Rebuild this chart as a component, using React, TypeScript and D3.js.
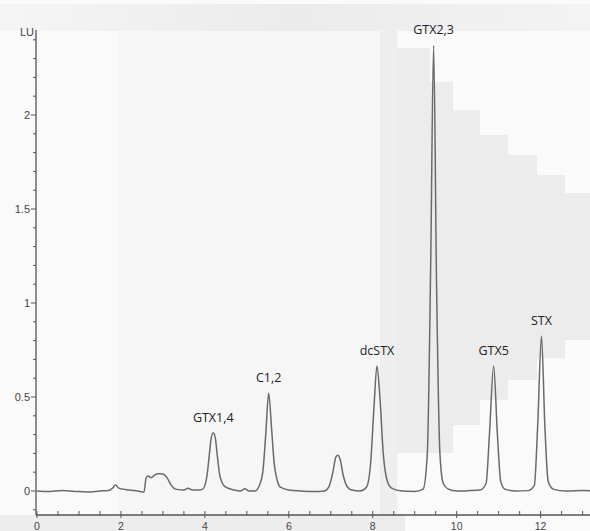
// ─ Imports ──────────────────────────────────────────────────────────────────────────────────────
import * as d3 from 'd3';
import { ReactElement } from 'react';

// ─ Data ─────────────────────────────────────────────────────────────────────────────────────────
// retention time (min) / signal (LU)
const times = [
  0, 0.3, 0.6, 0.9, 1.2, 1.5, 1.7, 1.8, 1.87, 1.95, 2.05, 2.2, 2.4, 2.55, 2.6, 2.65, 2.72, 2.8, 2.9,
  3.0, 3.1, 3.2, 3.3, 3.5, 3.6, 3.7, 3.85, 3.95, 4.0, 4.05, 4.1, 4.15, 4.2, 4.25, 4.3, 4.35, 4.42,
  4.5, 4.7, 4.85, 4.95, 5.05, 5.2, 5.3, 5.38, 5.45, 5.52, 5.59, 5.65, 5.72, 5.8, 6.0, 6.3, 6.6,
  6.85, 6.95, 7.05, 7.12, 7.17, 7.22, 7.3, 7.4, 7.5, 7.7, 7.85, 7.95, 8.03, 8.1, 8.17, 8.25, 8.35,
  8.45, 8.7, 9.0, 9.2, 9.3, 9.38, 9.45, 9.52, 9.6, 9.68, 9.8, 10.0, 10.3, 10.55, 10.7, 10.78,
  10.88, 10.97, 11.05, 11.15, 11.4, 11.7, 11.85, 11.93, 12.02, 12.1, 12.18, 12.3, 12.6, 13.0, 13.25
];
const signal = [
  0, -0.003, 0.002, -0.002, -0.005, 0.0, 0.003, 0.015, 0.032, 0.015, 0.01, 0.005, 0.0, -0.005, 0.07,
  0.08, 0.07, 0.085, 0.092, 0.09, 0.07, 0.03, 0.01, 0.005, 0.015, 0.005, 0.005, 0.01, 0.03, 0.08,
  0.18, 0.28, 0.31, 0.28, 0.18, 0.09, 0.04, 0.02, 0.005, 0.0, 0.012, 0.0, 0.0, 0.03, 0.1, 0.3,
  0.52, 0.33, 0.15, 0.06, 0.02, 0.005, 0.0, -0.003, 0.0, 0.02, 0.1, 0.18, 0.19, 0.17, 0.08, 0.02,
  0.005, 0.0, 0.02, 0.15, 0.45, 0.665, 0.5, 0.2, 0.05, 0.015, 0.0, -0.002, 0.01, 0.2, 1.2, 2.37,
  1.1, 0.2, 0.04, 0.01, 0.0, 0.002, 0.005, 0.04, 0.3, 0.665, 0.3, 0.05, 0.01, 0.0, 0.002, 0.03,
  0.35, 0.825, 0.35, 0.05, 0.01, 0.0, 0.002, 0.0
];

const peakNames = ['GTX1,4', 'C1,2', 'dcSTX', 'GTX2,3', 'GTX5', 'STX'];
const peakTimes = [4.2, 5.52, 8.1, 9.45, 10.88, 12.02];
const peakHeights = [0.31, 0.52, 0.665, 2.37, 0.665, 0.825];

const yTickLabels = [0, 0.5, 1, 1.5, 2];
const xTickLabels = [0, 2, 4, 6, 8, 10, 12];

// ─ Layout ───────────────────────────────────────────────────────────────────────────────────────
const WIDTH = 590;
const HEIGHT = 531;
const AXIS_X = 36;
const AXIS_Y = 515;
const AXIS_TOP = 30;

// background scan shading (staircase), pixel geometry
const stairs: [number, number][] = [
  [397, 48], [430, 48], [430, 82], [453, 82], [453, 110], [480, 110], [480, 135], [508, 135],
  [508, 155], [537, 155], [537, 175], [565, 175], [565, 193], [590, 193], [590, 340], [565, 340],
  [565, 358], [537, 358], [537, 380], [508, 380], [508, 400], [480, 400], [480, 425], [453, 425],
  [453, 453], [397, 453]
];

const font = '"Liberation Sans", Arial, sans-serif';
const labelFont = '"Open Sans", "Noto Sans", sans-serif';

// ─ Component ────────────────────────────────────────────────────────────────────────────────────
export default function App(): ReactElement {
  const x = d3.scaleLinear().domain([0, 13.2]).range([37, 591]);
  const y = d3.scaleLinear().domain([0, 2]).range([491, 115]);

  const points = times.map((t, i) => [t, signal[i]] as [number, number]);
  const line = d3.line<[number, number]>()
    .x(d => x(d[0]))
    .y(d => y(d[1]))
    .curve(d3.curveMonotoneX);

  const yMinor = d3.range(-1, 25).map(v => v / 10);
  const xMinor = d3.range(0, 27).map(v => v / 2);

  return (
    <svg width={WIDTH} height={HEIGHT} style={{ position: 'absolute', left: 0, top: 0 }}>
      <defs>
        <linearGradient id="topband" x1="0" x2="1" y1="0" y2="0">
          <stop offset="0" stopColor="#f5f5f5" />
          <stop offset="0.5" stopColor="#ebebeb" />
          <stop offset="1" stopColor="#f3f3f3" />
        </linearGradient>
      </defs>

      {/* background */}
      <rect x={0} y={0} width={WIDTH} height={HEIGHT} fill="#fafafa" />
      <rect x={118} y={31} width={280} height={484} fill="#f6f6f6" />
      <rect x={380} y={4} width={17} height={511} fill="#eeeeee" />
      <path d={`M${stairs.map(p => p.join(',')).join('L')}Z`} fill="#ececec" />
      <rect x={0} y={4} width={WIDTH} height={27} fill="url(#topband)" />
      <rect x={0} y={AXIS_Y} width={405} height={HEIGHT - AXIS_Y} fill="#ececec" />

      {/* y axis */}
      <line x1={AXIS_X} x2={AXIS_X} y1={AXIS_TOP} y2={AXIS_Y} stroke="#555" strokeWidth={1.3} />
      {yMinor.map(v => (
        <line key={`ym${v}`} x1={AXIS_X - (Math.abs((v * 10) % 5) < 1e-6 ? 5 : 3)} x2={AXIS_X}
          y1={y(v)} y2={y(v)} stroke="#555" strokeWidth={1} />
      ))}
      {yTickLabels.map(v => (
        <text key={`yl${v}`} x={AXIS_X - 6} y={y(v)} dy="0.35em" textAnchor="end"
          fontFamily={font} fontSize={11} fill="#444">{v}</text>
      ))}
      <text x={AXIS_X - 2} y={AXIS_TOP + 2} dy="0.35em" textAnchor="end"
        fontFamily={font} fontSize={11} fill="#444">LU</text>

      {/* x axis */}
      <line x1={AXIS_X} x2={WIDTH} y1={AXIS_Y} y2={AXIS_Y} stroke="#555" strokeWidth={1.3} />
      {xMinor.map(v => (
        <line key={`xm${v}`} x1={x(v)} x2={x(v)} y1={AXIS_Y - 4}
          y2={AXIS_Y + (v % 2 === 0 ? 3 : 0)} stroke="#555" strokeWidth={1} />
      ))}
      {xTickLabels.map(v => (
        <text key={`xl${v}`} x={x(v)} y={AXIS_Y + 14.5} textAnchor="middle"
          fontFamily={font} fontSize={10.5} fill="#444">{v}</text>
      ))}

      {/* trace */}
      <path d={line(points) || ''} fill="none" stroke="#6a6a6a" strokeWidth={1.5}
        strokeLinejoin="round" />

      {/* peak labels */}
      {peakNames.map((name, i) => (
        <text key={name} x={x(peakTimes[i])} y={y(peakHeights[i]) - 11} textAnchor="middle"
          fontFamily={labelFont} fontSize={12.5} fill="#222">{name}</text>
      ))}
    </svg>
  );
}
